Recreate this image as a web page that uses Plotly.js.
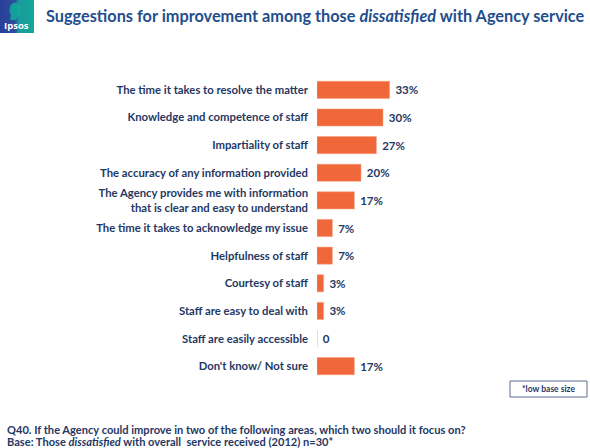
<!DOCTYPE html>
<html><head><meta charset="utf-8">
<script src="https://cdn.plot.ly/plotly-3.0.1.min.js"></script>
<style>html,body{margin:0;padding:0;background:#fff}#chart{width:590px;height:448px}</style>
</head><body><div id="chart"></div>
<script>
const categories = [
  "The time it takes to resolve the matter",
  "Knowledge and competence of staff",
  "Impartiality of staff",
  "The accuracy of any information provided",
  "The Agency provides me with information<br>that is clear and easy to understand",
  "The time it takes to acknowledge my issue",
  "Helpfulness of staff",
  "Courtesy of staff",
  "Staff are easy to deal with",
  "Staff are easily accessible",
  "Don't know/ Not sure"
];
const values = [33, 30, 27, 20, 17, 7, 7, 3, 3, 0, 17];
const valueLabels = ["33%", "30%", "27%", "20%", "17%", "7%", "7%", "3%", "3%", "0", "17%"];

const navy = "#1F3864";
const fontFam = "Lato, 'Open Sans', sans-serif";

const logoSvg = '<svg xmlns="http://www.w3.org/2000/svg" width="34" height="33" viewBox="0 0 34 33">' +
  '<defs><linearGradient id="g" x1="0" x2="1" y1="0" y2="0"><stop offset="0" stop-color="#2A3F98"/><stop offset="0.45" stop-color="#2A4FA0"/><stop offset="0.55" stop-color="#1A9A9A"/><stop offset="1" stop-color="#12A89A"/></linearGradient></defs>' +
  '<rect width="34" height="33" fill="url(#g)"/>' +
  '<path d="M13 3 C17 2 21 4 21 9 L22 12 L20 13 L20 16 L17 17 L16 20 L10 20 L11 15 C9 12 9 5 13 3 Z" fill="#12A89A" opacity="0.9"/>' +
  '</svg>';
const logoUri = "data:image/svg+xml;charset=utf-8," + encodeURIComponent(logoSvg);

const PL = 317, PW = 220, PT = 76, PH = 304;
const px = x => (x - PL) / PW;
const py = y => 1 - (y - PT) / PH;

const trace = {
  type: "bar",
  orientation: "h",
  y: categories,
  x: values,
  text: valueLabels.map(s => "\u00a0" + s),
  textposition: "outside",
  cliponaxis: false,
  textfont: {family: fontFam, size: 11.5, color: navy, weight: "bold"},
  marker: {color: "#F0673A", line: {color: "#F4A080", width: 0.5}},
  width: 0.62,
  hoverinfo: "skip"
};

const layout = {
  width: 590, height: 448,
  margin: {l: PL, r: 590 - PL - PW, t: PT, b: 448 - PT - PH},
  paper_bgcolor: "#fff", plot_bgcolor: "#fff",
  showlegend: false,
  xaxis: {range: [0, 100], visible: false, fixedrange: true},
  yaxis: {
    autorange: "reversed", type: "category",
    showgrid: false, zeroline: false, showline: false, ticks: "",
    ticklabelstandoff: 8,
    tickfont: {family: fontFam, size: 11.3, color: navy, weight: "bold"},
    fixedrange: true
  },
  images: [
    {source: logoUri, xref: "paper", yref: "paper", x: px(0), y: py(0), sizex: 34/PW, sizey: 33/PH, sizing: "stretch", xanchor: "left", yanchor: "top", layer: "above"}
  ],
  shapes: [
    {type: "rect", xref: "paper", yref: "paper", x0: px(510), x1: px(587), y0: py(381), y1: py(397), line: {color: "#5A6F8F", width: 1}, fillcolor: "#fff"}
  ],
  annotations: [
    {xref: "paper", yref: "paper", x: px(16.5), y: py(25), xanchor: "center", yanchor: "middle", text: "Ipsos", showarrow: false, font: {family: "'Open Sans', sans-serif", size: 9.5, color: "#fff", weight: "bold"}},
    {xref: "paper", yref: "paper", x: px(44), y: py(15), xanchor: "left", yanchor: "middle", showarrow: false,
     text: "Suggestions for improvement among those <i>dissatisfied</i> with Agency service",
     font: {family: fontFam, size: 16.3, color: "#1F4E8C", weight: "bold"}},
    {xref: "paper", yref: "paper", x: px(548.5), y: py(389), xanchor: "center", yanchor: "middle", showarrow: false,
     text: "*low base size", font: {family: fontFam, size: 8.5, color: navy, weight: "bold"}},
    {xref: "paper", yref: "paper", x: px(5), y: py(429), xanchor: "left", yanchor: "middle", showarrow: false,
     text: "Q40. If the Agency could improve in two of the following areas, which two should it focus on?",
     font: {family: fontFam, size: 11.1, color: navy, weight: "bold"}},
    {xref: "paper", yref: "paper", x: px(5), y: py(441), xanchor: "left", yanchor: "middle", showarrow: false,
     text: "Base: Those <i>dissatisfied</i> with overall  service received (2012) n=30*",
     font: {family: fontFam, size: 11.1, color: navy, weight: "bold"}}
  ]
};

Plotly.newPlot("chart", [trace], layout, {displayModeBar: false, staticPlot: true});
</script></body></html>
